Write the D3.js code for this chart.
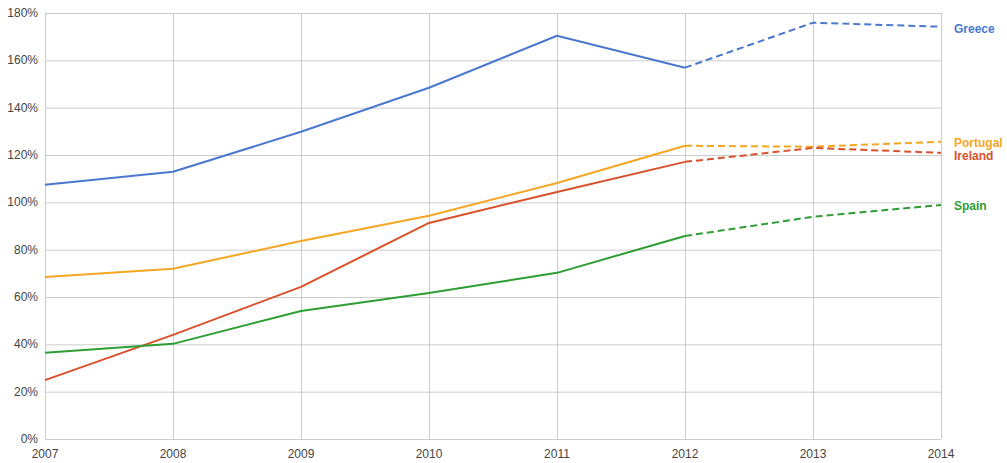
<!DOCTYPE html>
<html><head><meta charset="utf-8">
<script src="https://cdn.jsdelivr.net/npm/d3@7"></script>
<style>
body{margin:0;background:#fff;}
svg{display:block;font-family:"Liberation Sans",Arial,sans-serif;}
</style></head><body>
<svg id="c" width="1007" height="463"></svg>
<script>
const years = [2007, 2008, 2009, 2010, 2011, 2012, 2013, 2014];
const projectedFrom = 2012;
const greece   = [107.4, 112.9, 129.8, 148.4, 170.4, 156.9, 175.9, 174.2];
const portugal = [68.5, 71.9, 83.7, 94.3, 108.2, 123.9, 123.5, 125.6];
const ireland  = [24.9, 44.0, 64.3, 91.3, 104.4, 117.1, 123.0, 120.9];
const spain    = [36.4, 40.2, 54.1, 61.7, 70.2, 85.8, 93.9, 98.9];
const yTicks = [0, 20, 40, 60, 80, 100, 120, 140, 160, 180];
const seriesNames = ["Greece", "Portugal", "Ireland", "Spain"];
const seriesColors = ["#4a78cf", "#f5a623", "#d9512c", "#2e9e34"];
const labelOffsets = [2, 1, 3, 1];

const series = [greece, portugal, ireland, spain].map((v, i) => ({
  name: seriesNames[i], color: seriesColors[i], values: v, dy: labelOffsets[i]
}));

const svg = d3.select("#c");
const x = d3.scaleLinear().domain([2007, 2014]).range([45, 941]);
const y = d3.scaleLinear().domain([0, 180]).range([439, 13]);

// grid
svg.append("g").selectAll("line").data(yTicks).join("line")
  .attr("x1", x(2007)).attr("x2", x(2014))
  .attr("y1", d => y(d) + 0.5).attr("y2", d => y(d) + 0.5)
  .attr("stroke", "#cccccc").attr("stroke-width", 1);
svg.append("g").selectAll("line").data(years).join("line")
  .attr("x1", d => Math.round(x(d)) + 0.5).attr("x2", d => Math.round(x(d)) + 0.5)
  .attr("y1", y(180)).attr("y2", y(0))
  .attr("stroke", "#cccccc").attr("stroke-width", 1);

// y labels
svg.append("g").selectAll("text").data(yTicks).join("text")
  .attr("x", 38).attr("y", d => y(d) + 4)
  .attr("text-anchor", "end").attr("font-size", 12).attr("fill", "#444")
  .text(d => d + "%");
// x labels
svg.append("g").selectAll("text").data(years).join("text")
  .attr("x", d => x(d)).attr("y", 458)
  .attr("text-anchor", "middle").attr("font-size", 12).attr("fill", "#444")
  .text(d => d);

const line = d3.line().x(d => x(d[0])).y(d => y(d[1]));

series.forEach(s => {
  const pts = years.map((yr, i) => [yr, s.values[i]]);
  const solid = pts.filter(p => p[0] <= projectedFrom);
  const dashed = pts.filter(p => p[0] >= projectedFrom);
  svg.append("path").attr("d", line(solid)).attr("fill", "none")
    .attr("stroke", s.color).attr("stroke-width", 2).attr("stroke-linejoin", "round");
  svg.append("path").attr("d", line(dashed)).attr("fill", "none")
    .attr("stroke", s.color).attr("stroke-width", 2).attr("stroke-dasharray", "7,4");
  svg.append("text").attr("x", 954).attr("y", y(s.values[s.values.length - 1]) + 4 + s.dy)
    .attr("font-size", 12).attr("font-weight", "bold").attr("fill", s.color)
    .text(s.name);
});
</script>
</body></html>
